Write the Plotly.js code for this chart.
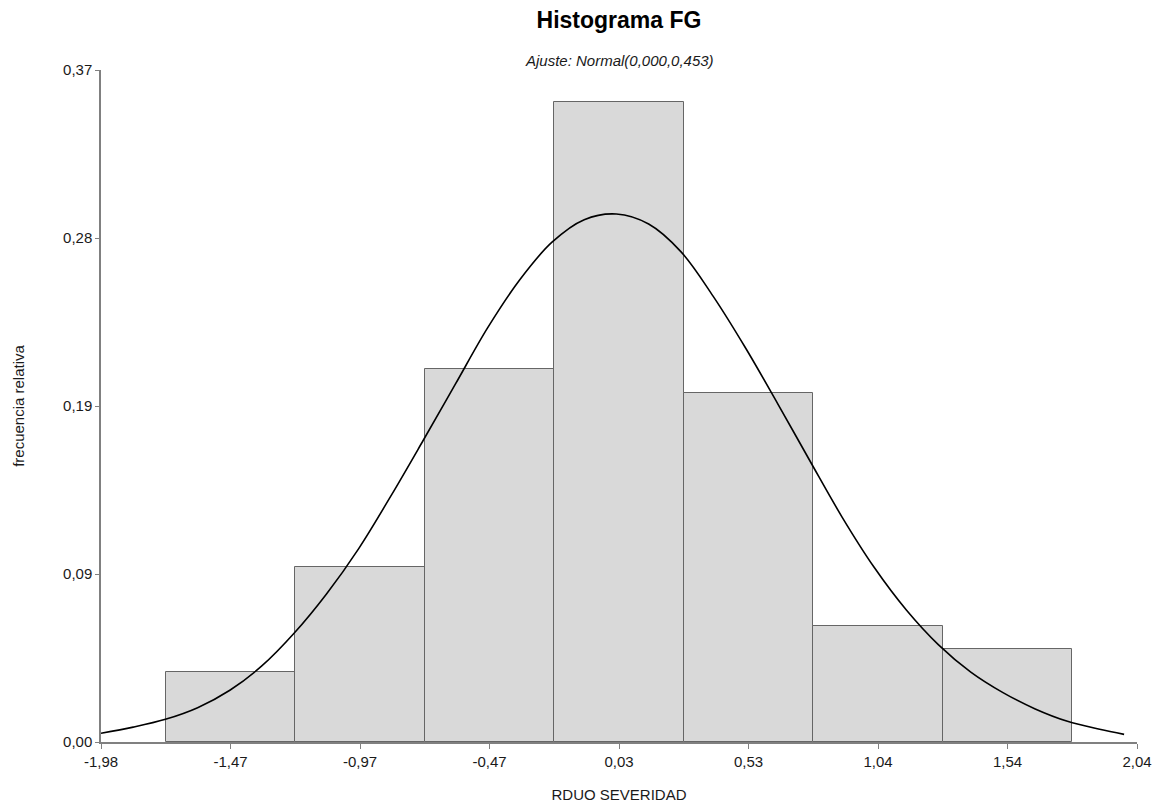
<!DOCTYPE html>
<html>
<head>
<meta charset="utf-8">
<script src="https://cdn.plot.ly/plotly-3.0.1.min.js"></script>
<style>html,body{margin:0;padding:0;background:#fff;}#chart{width:1155px;height:804px;}</style>
</head>
<body>
<div id="chart"></div>
<script>
// Bin centres (x, RDUO SEVERIDAD) and relative frequencies
const binCenters = [-1.4775, -0.975, -0.4725, 0.03, 0.5325, 1.035, 1.5375];
const relFreq = [0.0385, 0.0962, 0.2051, 0.3526, 0.1923, 0.0641, 0.0513];
const binWidth = 0.5025;

// Fitted normal curve
const curveX = [-1.98, -1.855, -1.73, -1.605, -1.48, -1.355, -1.23, -1.105, -0.98, -0.855, -0.73, -0.605, -0.48, -0.355, -0.23, -0.105, 0.02, 0.145, 0.27, 0.395, 0.52, 0.645, 0.77, 0.895, 1.02, 1.145, 1.27, 1.395, 1.52, 1.645, 1.77, 1.895, 1.99];
const curveY = [0.0048, 0.0082, 0.0125, 0.0189, 0.0285, 0.0420, 0.0600, 0.0815, 0.1065, 0.1355, 0.1660, 0.1970, 0.2280, 0.2545, 0.2752, 0.2876, 0.2907, 0.2852, 0.2700, 0.2455, 0.2172, 0.1865, 0.1550, 0.1240, 0.0962, 0.0727, 0.0535, 0.0385, 0.0272, 0.0182, 0.0114, 0.0070, 0.0042];

// Tick positions and labels
const xTickVals = [-1.98, -1.4775, -0.975, -0.4725, 0.03, 0.5325, 1.035, 1.5375, 2.04];
const xTickText = ['-1,98', '-1,47', '-0,97', '-0,47', '0,03', '0,53', '1,04', '1,54', '2,04'];
const yTickVals = [0, 0.0925, 0.185, 0.2775, 0.37];
const yTickText = ['0,00', '0,09', '0,19', '0,28', '0,37'];

const font = 'Liberation Sans, Arial, sans-serif';

const traces = [
  {
    type: 'bar',
    x: binCenters,
    y: relFreq,
    width: binCenters.map(() => binWidth),
    marker: {color: '#d9d9d9', line: {color: '#666666', width: 1}},
    hoverinfo: 'x+y',
    showlegend: false
  },
  {
    type: 'scatter',
    mode: 'lines',
    x: curveX,
    y: curveY,
    line: {color: '#000000', width: 1.6, shape: 'spline', smoothing: 1, simplify: false},
    hoverinfo: 'skip',
    showlegend: false
  }
];

const layout = {
  width: 1155,
  height: 804,
  paper_bgcolor: '#ffffff',
  plot_bgcolor: '#ffffff',
  margin: {l: 101, r: 18, t: 70, b: 62},
  font: {family: font, size: 15, color: '#1a1a1a'},
  bargap: 0,
  title: {
    text: '<b>Histograma FG</b>',
    font: {family: font, size: 23, color: '#000'},
    x: 0.5, xref: 'paper', xanchor: 'center',
    y: 1 - 20/804, yref: 'container', yanchor: 'middle'
  },
  annotations: [{
    text: '<i>Ajuste: Normal(0,000,0,453)</i>',
    xref: 'paper', yref: 'paper',
    x: 0.5, y: 1 + (70 - 61) / 672,
    xanchor: 'center', yanchor: 'middle',
    showarrow: false,
    font: {family: font, size: 15, color: '#1a1a1a'}
  }],
  xaxis: {
    range: [-1.98, 2.04],
    tickmode: 'array', tickvals: xTickVals, ticktext: xTickText,
    showgrid: false, zeroline: false,
    showline: true, linecolor: '#808080', linewidth: 1.5,
    ticks: 'outside', ticklen: 5, tickcolor: '#808080',
    tickfont: {family: font, size: 15, color: '#1a1a1a'},
    title: {text: 'RDUO SEVERIDAD', standoff: 21, font: {family: font, size: 15, color: '#1a1a1a'}},
    fixedrange: true
  },
  yaxis: {
    range: [0, 0.37],
    tickmode: 'array', tickvals: yTickVals, ticktext: yTickText,
    showgrid: false, zeroline: false,
    showline: true, linecolor: '#808080', linewidth: 1.5,
    ticks: 'outside', ticklen: 4, tickcolor: '#808080',
    tickfont: {family: font, size: 15, color: '#1a1a1a'},
    title: {text: 'frecuencia relativa', standoff: 35, font: {family: font, size: 15, color: '#1a1a1a'}},
    fixedrange: true
  }
};

Plotly.newPlot('chart', traces, layout, {displayModeBar: false, responsive: false});
</script>
</body>
</html>
